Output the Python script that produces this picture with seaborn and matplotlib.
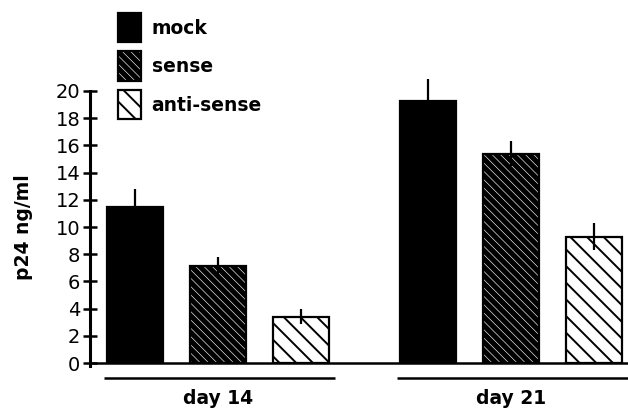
import numpy as np
import pandas as pd
import matplotlib
matplotlib.use("Agg")
import matplotlib.pyplot as plt
from matplotlib.patches import Patch
import seaborn as sns

days = ["day 14", "day 21"]
treatments = ["mock", "sense", "anti-sense"]
mock = [11.5, 19.3]
sense = [7.1, 15.4]
anti_sense = [3.4, 9.3]
mock_err = [1.3, 1.6]
sense_err = [0.7, 0.9]
anti_sense_err = [0.55, 1.0]

values = [mock, sense, anti_sense]
errors = [mock_err, sense_err, anti_sense_err]
yticks = [0, 2, 4, 6, 8, 10, 12, 14, 16, 18, 20]

df = pd.DataFrame({
    "day": days * 3,
    "treatment": [t for t in treatments for _ in days],
    "value": mock + sense + anti_sense,
})

sns.set_style("ticks")
plt.rcParams["font.family"] = ["DejaVu Sans"]
plt.rcParams["hatch.linewidth"] = 1.4
for k in ["text.color", "axes.labelcolor", "xtick.color", "ytick.color",
          "axes.edgecolor"]:
    plt.rcParams[k] = "black"

fig = plt.figure(figsize=(6.28, 4.11), dpi=100)
ax = fig.add_axes([90 / 628, 48 / 411, 538 / 628, 285.6 / 411])

styles = {
    "mock": dict(fc="black", hatch=None, hlw=1.4),
    "sense": dict(fc="white", hatch="\\\\\\\\", hlw=3.8),
    "anti-sense": dict(fc="white", hatch="\\\\", hlw=1.4),
}

sns.barplot(data=df, x="day", y="value", hue="treatment", order=days,
            hue_order=treatments, palette=["black", "gray", "white"],
            width=0.85, gap=0.33, errorbar=None, edgecolor="black",
            linewidth=1.6, legend=False, ax=ax)

has_hlw = hasattr(Patch, "set_hatch_linewidth")

def style_patch(p, st):
    p.set_facecolor(st["fc"])
    p.set_edgecolor("black")
    if st["hatch"]:
        p.set_hatch(st["hatch"])
        if has_hlw:
            p.set_hatch_linewidth(st["hlw"])
        elif st["hlw"] > 2:
            p.set_facecolor("#555555")

for cont, t, vals, errs in zip(ax.containers, treatments, values, errors):
    st = styles[t]
    xs = []
    for p in cont:
        style_patch(p, st)
        xs.append(p.get_x() + p.get_width() / 2)
    ax.errorbar(xs, vals, yerr=errs, fmt="none", ecolor="black",
                elinewidth=1.6, capsize=0, clip_on=False, zorder=5)

ax.set_xlim(-0.437, 1.40)
ax.set_ylim(0, 21)
ax.set_yticks(yticks)
ax.set_yticklabels([str(v) for v in yticks], fontsize=14)
ax.spines["left"].set_bounds(-0.25, 20)
ax.spines["left"].set_linewidth(2.2)
ax.spines["bottom"].set_linewidth(1.8)
ax.spines["top"].set_visible(False)
ax.spines["right"].set_visible(False)
ax.tick_params(axis="y", direction="inout", length=10, width=1.8, pad=2)
ax.tick_params(axis="x", length=0, pad=19)
ax.set_xticks(range(len(days)))
ax.set_xticklabels(days, fontsize=13.5, fontweight="bold")
ax.set_xlabel("")
ax.set_ylabel("p24 ng/ml", fontsize=13.5, fontweight="bold")
ax.yaxis.set_label_coords(-0.106, 10 / 21)

# group underlines
trans = ax.get_xaxis_transform()
for i in range(len(days)):
    ax.plot([i - 0.39, i + 0.40], [-0.053, -0.053], color="black", lw=1.8,
            transform=trans, clip_on=False, solid_capstyle="butt")

handles = []
for t in treatments:
    h = Patch(facecolor=styles[t]["fc"], edgecolor="black",
              hatch=styles[t]["hatch"], linewidth=1.6, label=t)
    style_patch(h, styles[t])
    handles.append(h)
leg = fig.legend(handles=handles, loc="upper left",
                 bbox_to_anchor=(118 / 628, 1 - 13 / 411), frameon=False,
                 borderpad=0, borderaxespad=0, handlelength=1.25,
                 handleheight=2.04, labelspacing=0.48, handletextpad=0.55,
                 prop=dict(size=13.5, weight="bold"))
for lh, t in zip(leg.legend_handles, treatments):
    style_patch(lh, styles[t])

fig.savefig("out.png", dpi=100)
